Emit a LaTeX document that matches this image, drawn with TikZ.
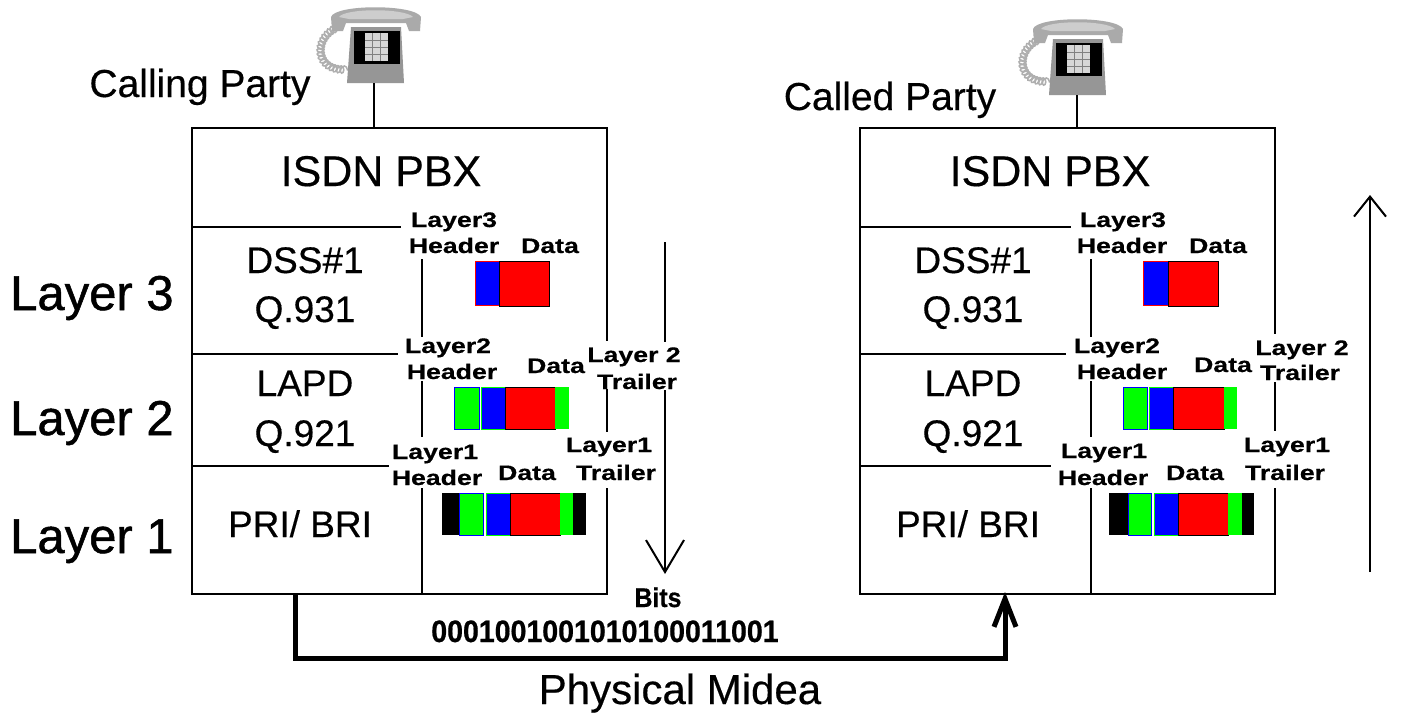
\documentclass[tikz,border=0pt]{standalone}
\usepackage{fontspec}
\setmainfont{Liberation Sans}[FakeBold=0.4]
\newfontfamily\layerfont{Liberation Sans}[FakeBold=1.0]
\newfontfamily\tagfont{Liberation Sans Bold}[FakeStretch=1.27, FakeBold=0.5]
\newfontfamily\bitfont{Liberation Sans Bold}[FakeStretch=0.92, FakeBold=0.6]
\usetikzlibrary{arrows.meta,decorations.pathmorphing}

\definecolor{pblue}{RGB}{0,0,255}
\definecolor{pred}{RGB}{255,0,0}
\definecolor{pgreen}{RGB}{0,255,0}
\definecolor{bodygray}{RGB}{150,150,150}
\definecolor{handgray}{RGB}{170,170,170}
\definecolor{handlight}{RGB}{205,205,205}
\definecolor{keygray}{RGB}{215,215,215}
\definecolor{cordgray}{RGB}{175,175,175}

\tikzset{
  frame/.style={line width=2pt, line cap=rect},
  big/.style={font=\fontsize{37}{40}\selectfont, inner sep=0pt, anchor=base},
  title/.style={font=\fontsize{43}{46}\selectfont, inner sep=0pt, anchor=base},
  party/.style={font=\fontsize{39}{42}\selectfont, inner sep=0pt, anchor=base},
  layername/.style={font=\layerfont\fontsize{49}{51}\selectfont, inner sep=0pt, anchor=base west},
  tag/.style={font=\tagfont\fontsize{21}{23}\selectfont, inner sep=0pt, anchor=base},
  seg/.style={line width=1pt, fill=#1},
  flow/.style={line width=2pt},
  phone/.pic={
    % coiled cord
    \draw[cordgray, line width=1.5pt, decorate,
          decoration={coil, aspect=0.7, segment length=3.5pt, amplitude=3.5pt}]
      (-38,-55) .. controls (-62,-45) and (-60,-10) .. (-26,-14);
    % base and dial panel
    \fill[bodygray] (-28,0) -- (29,0) -- (26,-56) -- (-24,-56) -- cycle;
    \fill[black] (-21,-52) rectangle (25,-19);
    \fill[keygray] (-10,-50) rectangle (13,-22);
    \draw[gray, line width=0.6pt]
      (-10,-43) -- (13,-43) (-10,-36) -- (13,-36) (-10,-29) -- (13,-29)
      (-2.3,-50) -- (-2.3,-22) (5.3,-50) -- (5.3,-22);
    % handset
    \fill[handgray] (-43,-52) -- (-44,-66) .. controls (-40,-79) and (40,-79) .. (46,-66)
      -- (45,-52) -- (34,-52) -- (31,-60) -- (-29,-60) -- (-32,-52) -- cycle;
    \fill[handlight] (-36,-66) .. controls (-30,-75) and (30,-75) .. (38,-66)
      -- (28,-64) -- (-26,-64) -- cycle;
  }
}

\begin{document}
\begin{tikzpicture}[x=1pt,y=-1pt]
\useasboundingbox (0,0) rectangle (1401,718);
\fill[white] (0,0) rectangle (1401,718);

% ---------- telephones ----------
\pic at (375,83) {phone};
\pic at (1077,95) {phone};
\coordinate (telA) at (374,83);
\coordinate (telB) at (1077,95);
\coordinate (pbxA) at (374,128);
\coordinate (pbxB) at (1077,128);
\draw[line width=1.2pt] (telA) -- (pbxA);
\draw[line width=1.2pt] (telB) -- (pbxB);

\node[party] (calling) at (200,97) {Calling Party};
\node[party] (called)  at (890,110) {Called Party};

% ---------- left protocol stack ----------
\draw[frame] (607,340) -- (607,128) -- (192,128) -- (192,594) -- (607,594) -- (607,489);
\draw[frame] (607,390) -- (607,431);
\draw[frame] (192,227) -- (400,227);
\draw[frame] (192,354) -- (397,354);
\draw[frame] (192,466) -- (388,466);
\draw[frame] (422,260) -- (422,336);
\draw[frame] (422,382) -- (422,436);
\draw[frame] (422,489) -- (422,594);

\node[title] (pbxL) at (381,186) {ISDN PBX};
\node[big] (dssL)  at (305,273) {DSS\#1};
\node[big] (q931L) at (305,322) {Q.931};
\node[big] (lapdL) at (305,396) {LAPD};
\node[big] (q921L) at (305,446) {Q.921};
\node[big] (priL)  at (300,537) {PRI/ BRI};

\node[tag] (l3hL1) at (454,227) {Layer3};
\node[tag] (l3hL2) at (454,253) {Header};
\node[tag] (l3dL)  at (550,253) {Data};
\node[tag] (l2hL1) at (448,353) {Layer2};
\node[tag] (l2hL2) at (452,379) {Header};
\node[tag] (l2dL)  at (556,373) {Data};
\node[tag] (l2tL1) at (634,362) {Layer 2};
\node[tag] (l2tL2) at (637,389) {Trailer};
\node[tag] (l1hL1) at (435,459) {Layer1};
\node[tag] (l1hL2) at (437,485) {Header};
\node[tag] (l1dL)  at (527,480) {Data};
\node[tag] (l1tL1) at (609,452) {Layer1};
\node[tag] (l1tL2) at (616,480) {Trailer};

% layer 3 frame
\filldraw[seg=pblue, draw=pred]  (475,261) rectangle (499,305);
\filldraw[seg=pred, draw=black]  (499,261) rectangle (549,306);
% layer 2 frame
\filldraw[seg=pgreen, draw=pblue] (454,387) rectangle (479,429);
\filldraw[seg=pblue, draw=pgreen] (481,387) rectangle (505,429);
\filldraw[seg=pred, draw=black]   (505,387) rectangle (555,429);
\fill[pgreen] (555,387) rectangle (569,429);
% layer 1 frame
\fill[black] (442,493) rectangle (459,535);
\filldraw[seg=pgreen, draw=pblue] (459,493) rectangle (483,535);
\filldraw[seg=pblue, draw=pgreen] (486,493) rectangle (510,535);
\filldraw[seg=pred, draw=black]   (510,493) rectangle (560,535);
\fill[pgreen] (560,493) rectangle (573,535);
\fill[black]  (573,493) rectangle (586,535);

% ---------- right protocol stack ----------
\draw[frame] (1275,333) -- (1275,128) -- (860,128) -- (860,594) -- (1275,594) -- (1275,489);
\draw[frame] (1275,383) -- (1275,430);
\draw[frame] (860,227) -- (1070,227);
\draw[frame] (860,354) -- (1065,354);
\draw[frame] (860,466) -- (1050,466);
\draw[frame] (1091,260) -- (1091,336);
\draw[frame] (1091,382) -- (1091,436);
\draw[frame] (1091,489) -- (1091,594);

\node[title] (pbxR) at (1050,186) {ISDN PBX};
\node[big] (dssR)  at (973,273) {DSS\#1};
\node[big] (q931R) at (973,322) {Q.931};
\node[big] (lapdR) at (973,396) {LAPD};
\node[big] (q921R) at (973,446) {Q.921};
\node[big] (priR)  at (968,537) {PRI/ BRI};

\node[tag] (l3hR1) at (1123,227) {Layer3};
\node[tag] (l3hR2) at (1122,253) {Header};
\node[tag] (l3dR)  at (1218,253) {Data};
\node[tag] (l2hR1) at (1117,353) {Layer2};
\node[tag] (l2hR2) at (1122,379) {Header};
\node[tag] (l2dR)  at (1223,372) {Data};
\node[tag, fill=white, inner sep=1pt] (l2tR1) at (1302,355) {Layer 2};
\node[tag] (l2tR2) at (1300,380) {Trailer};
\node[tag] (l1hR1) at (1104,458) {Layer1};
\node[tag] (l1hR2) at (1103,485) {Header};
\node[tag] (l1dR)  at (1195,480) {Data};
\node[tag] (l1tR1) at (1287,452) {Layer1};
\node[tag] (l1tR2) at (1285,480) {Trailer};

\filldraw[seg=pblue, draw=pred]  (1143,261) rectangle (1168,305);
\filldraw[seg=pred, draw=black]  (1168,261) rectangle (1218,306);
\filldraw[seg=pgreen, draw=pblue] (1123,387) rectangle (1147,429);
\filldraw[seg=pblue, draw=pgreen] (1149,387) rectangle (1173,429);
\filldraw[seg=pred, draw=black]   (1173,387) rectangle (1224,429);
\fill[pgreen] (1224,387) rectangle (1237,429);
\fill[black] (1109,493) rectangle (1128,535);
\filldraw[seg=pgreen, draw=pblue] (1128,493) rectangle (1151,535);
\filldraw[seg=pblue, draw=pgreen] (1154,493) rectangle (1178,535);
\filldraw[seg=pred, draw=black]   (1178,493) rectangle (1228,535);
\fill[pgreen] (1228,493) rectangle (1242,535);
\fill[black]  (1242,493) rectangle (1254,535);

% ---------- layer names ----------
\node[layername] (lay3) at (10,310) {Layer 3};
\node[layername] (lay2) at (10,435) {Layer 2};
\node[layername] (lay1) at (10,553) {Layer 1};

% ---------- direction arrows ----------
\coordinate (dnA) at (665,242);
\coordinate (dnB) at (665,342);
\coordinate (dnC) at (665,390);
\coordinate (dnD) at (665,574);
\draw[flow] (dnA) -- (dnB);
\draw[flow, -{Straight Barb[length=32pt, width=38pt, line width=2pt]}] (dnC) -- (dnD);
\coordinate (upA) at (1370,572);
\coordinate (upB) at (1370,195);
\draw[flow, -{Straight Barb[length=20pt, width=32pt, line width=2pt]}] (upA) -- (upB);

% ---------- physical medium ----------
\coordinate (medA) at (295,594);
\coordinate (medB) at (1005,592);
\draw[line width=5pt, line join=miter, -{Straight Barb[length=28pt, width=22pt, line width=5pt]}]
  (medA) -- (295,658) -- (1005,658) -- (medB);
\node[font=\bitfont\fontsize{27}{29}\selectfont, inner sep=0pt, anchor=base] (bits) at (658,607) {Bits};
\node[font=\bitfont\fontsize{31}{33}\selectfont, inner sep=0pt, anchor=base] (stream) at (605,642) {0001001001010100011001};
\node[font=\fontsize{42}{44}\selectfont, inner sep=0pt, anchor=base] (medium) at (680,704) {Physical Midea};

\end{tikzpicture}
\end{document}
